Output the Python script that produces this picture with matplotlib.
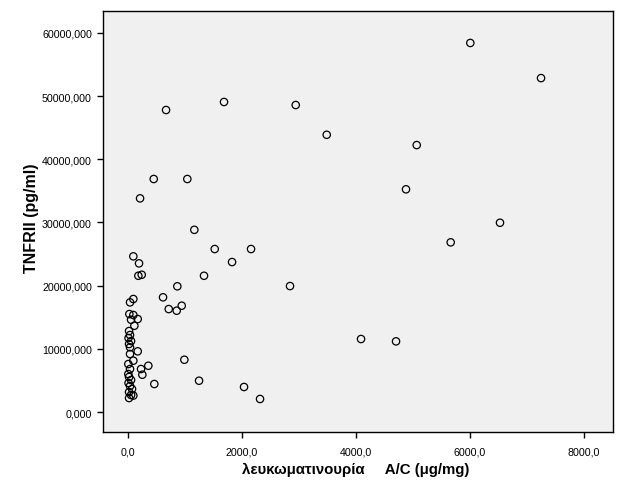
import matplotlib
matplotlib.use('Agg')
import matplotlib.pyplot as plt
from matplotlib.ticker import FuncFormatter

# λευκωματινουρία A/C (μg/mg)
albumin = [6005, 7246, 2942, 1684, 667, 3486, 5065, 4877, 451, 1040,
           211, 1163, 6526, 5661, 1521, 2158, 93, 193, 181, 240,
           1825, 1333, 2842, 865, 614, 35, 93, 714, 854, 942,
           23, 93, 170, 53, 111, 18, 35, 9, 53, 18,
           35, 170, 35, 93, 5, 228, 356, 251, 35, 5,
           461, 988, 1246, 2035, 2316, 4088, 4702, 18, 53, 9,
           35, 70, 18, 53, 18, 93]
# TNFRII (pg/ml)
tnfrii = [58400, 52840, 48580, 49060, 47790, 43870, 42240, 35240, 36870, 36870,
          33810, 28830, 29950, 26850, 25790, 25790, 24630, 23520, 21560, 21720,
          23730, 21560, 19930, 19890, 18150, 17350, 17880, 16290, 16030, 16820,
          15500, 15350, 14710, 14600, 13650, 12810, 12180, 11710, 11230, 10760,
          10240, 9600, 9180, 8120, 7590, 6800, 7320, 5900, 6800, 6010,
          4430, 8270, 4950, 3960, 2060, 11550, 11180, 5540, 5060, 4590,
          4110, 3640, 3160, 2690, 2210, 2600]

xticks = [0, 2000, 4000, 6000, 8000]
yticks = [0, 10000, 20000, 30000, 40000, 50000, 60000]

plt.rcParams['font.family'] = ['Liberation Sans', 'DejaVu Sans']

fig = plt.figure(figsize=(6.27, 5.02), dpi=100)
ax = fig.add_axes([0.1643, 0.1375, 0.8134, 0.8385])
ax.set_facecolor('#f0f0f0')

ax.scatter(albumin, tnfrii, s=28, facecolors='none', edgecolors='black', linewidths=0.9)

ax.set_xlim(-439, 8509)
ax.set_ylim(-3160, 63450)
ax.set_xticks(xticks)
ax.set_yticks(yticks)
ax.xaxis.set_major_formatter(FuncFormatter(lambda v, p: ('%.1f' % v).replace('.', ',')))
ax.yaxis.set_major_formatter(FuncFormatter(lambda v, p: ('%.3f' % v).replace('.', ',')))
ax.tick_params(direction='out', length=4.5, width=1, labelsize=7.7, colors='black')
ax.tick_params(axis='x', pad=6)
for s in ax.spines.values():
    s.set_linewidth(1)
    s.set_color('black')

ax.set_xlabel('λευκωματινουρία     A/C (μg/mg)', fontsize=10.8, fontweight='bold')
ax.set_ylabel('TNFRII (pg/ml)', fontsize=11.5, fontweight='bold')
ax.xaxis.set_label_coords(0.496, -0.072)
ax.yaxis.set_label_coords(-0.126, 0.51)

fig.savefig('out.png', dpi=100)
